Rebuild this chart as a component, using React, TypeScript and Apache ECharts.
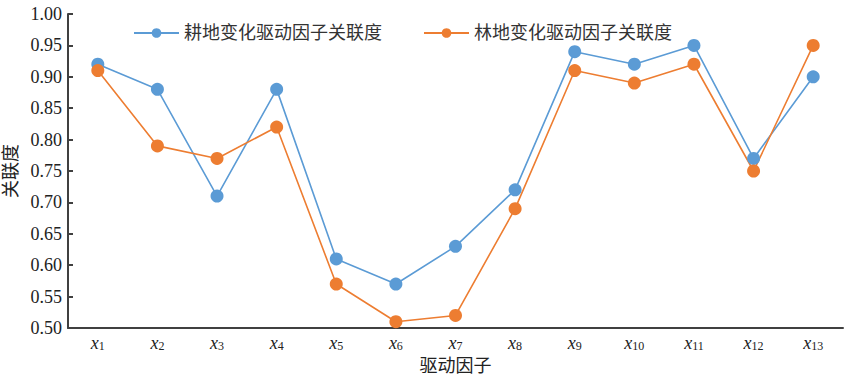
import React, { useEffect, useRef } from "react";
import * as echarts from "echarts";

const categories = ["1", "2", "3", "4", "5", "6", "7", "8", "9", "10", "11", "12", "13"];
const cultivated = [0.92, 0.88, 0.71, 0.88, 0.61, 0.57, 0.63, 0.72, 0.94, 0.92, 0.95, 0.77, 0.9];
const forest = [0.91, 0.79, 0.77, 0.82, 0.57, 0.51, 0.52, 0.69, 0.91, 0.89, 0.92, 0.75, 0.95];
const seriesNames = ["耕地变化驱动因子关联度", "林地变化驱动因子关联度"];

const FONT = "Liberation Serif, Noto Sans CJK SC, serif";

export default function App() {
  const ref = useRef<HTMLDivElement>(null);
  useEffect(() => {
    const chart = echarts.init(ref.current!, undefined, { renderer: "svg" });
    chart.setOption({
      animation: false,
      textStyle: { fontFamily: FONT },
      grid: { left: 68, right: 7, top: 14, bottom: 48, outerBoundsMode: "none" },
      legend: {
        top: 19,
        left: 128,
        itemGap: 41,
        itemWidth: 45,
        itemHeight: 12,
        textStyle: { fontSize: 18, color: "#333", fontFamily: FONT },
        data: seriesNames,
      },
      xAxis: {
        type: "category",
        data: categories,
        boundaryGap: true,
        name: "驱动因子",
        nameLocation: "middle",
        nameGap: 21,
        nameTextStyle: { fontSize: 18, color: "#222", fontFamily: FONT },
        axisLine: { lineStyle: { color: "#404040", width: 2 } },
        axisTick: { inside: true, length: 5, lineStyle: { color: "#404040", width: 2 } },
        axisLabel: {
          interval: 0,
          margin: 5,
          formatter: (v: string) => `{x|x}{s|${v}}`,
          rich: {
            x: { fontSize: 18, fontStyle: "italic", fontFamily: "Liberation Serif", color: "#222" },
            s: { fontSize: 12, fontFamily: "Liberation Serif", color: "#222", verticalAlign: "bottom", padding: [7, 0, 0, 0] },
          },
        },
      },
      yAxis: {
        type: "value",
        min: 0.5,
        max: 1.0,
        interval: 0.05,
        name: "关联度",
        nameLocation: "middle",
        nameGap: 45,
        nameTextStyle: { fontSize: 18, color: "#222", fontFamily: FONT },
        axisLine: { show: true, lineStyle: { color: "#404040", width: 2 } },
        axisTick: { show: true, inside: true, length: 5, lineStyle: { color: "#404040", width: 2 } },
        splitLine: { show: false },
        axisLabel: {
          margin: 6,
          formatter: (v: number) => `{t|${v.toFixed(2)}}`,
          rich: {
            t: { fontSize: 18, fontFamily: "Liberation Serif", color: "#222" },
          },
        },
      },
      series: [
        {
          name: seriesNames[0],
          type: "line",
          data: cultivated,
          symbol: "circle",
          symbolSize: 13,
          itemStyle: { color: "#5B9BD5" },
          lineStyle: { color: "#5B9BD5", width: 1.6 },
        },
        {
          name: seriesNames[1],
          type: "line",
          data: forest,
          symbol: "circle",
          symbolSize: 13,
          itemStyle: { color: "#ED7D31" },
          lineStyle: { color: "#ED7D31", width: 1.6 },
        },
      ],
    });
    return () => chart.dispose();
  }, []);
  return <div ref={ref} style={{ width: 850, height: 376, position: "absolute", left: 0, top: 0 }} />;
}
